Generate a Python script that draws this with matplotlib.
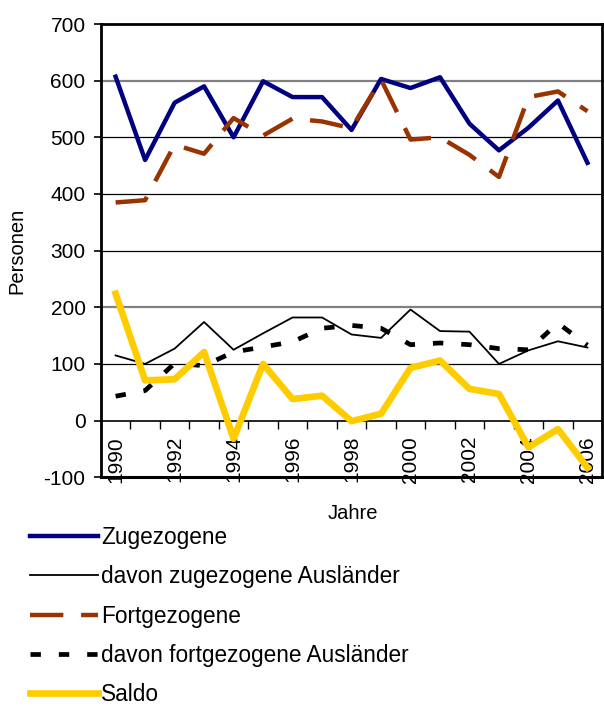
import matplotlib.pyplot as plt
import numpy as np

years = list(range(1990, 2007))
zugezogene = [607, 460, 561, 590, 500, 599, 571, 571, 513, 603, 587, 606, 524, 477, 517, 565, 455]
zu_auslaender = [115, 100, 127, 174, 125, 154, 182, 182, 152, 146, 196, 158, 157, 100, 124, 140, 129]
fortgezogene = [385, 389, 487, 471, 534, 503, 533, 528, 516, 602, 496, 500, 469, 430, 571, 581, 546]
fort_auslaender = [43, 53, 101, 97, 121, 130, 139, 163, 168, 163, 134, 137, 134, 127, 125, 172, 133]
saldo = [224, 71, 73, 121, -32, 100, 38, 44, -1, 12, 93, 106, 56, 47, -47, -15, -83]

plt.rcParams['font.family'] = ['Liberation Sans', 'DejaVu Sans']
plt.rcParams['axes.unicode_minus'] = False

fig = plt.figure(figsize=(6.04, 7.06), dpi=100)
ax = fig.add_axes([0.167, 0.324, 0.83, 0.642])

x = np.arange(len(years))

# grid lines
for v in [100, 300, 400, 500]:
    ax.axhline(v, color='black', lw=0.9, zorder=1)
for v in [200, 600]:
    ax.axhline(v, color='#808080', lw=1.6, zorder=1)
ax.axhline(-100, color='black', lw=2.2, zorder=5, clip_on=False)

ax.plot(x, zugezogene, color='#000080', lw=3.2, label='Zugezogene', zorder=3)
ax.plot(x, zu_auslaender, color='black', lw=1.3, label='davon zugezogene Ausländer', zorder=3)
ax.plot(x, fortgezogene, color='#993300', lw=3.2, dashes=(7.5, 4), label='Fortgezogene', zorder=3)
ax.plot(x, fort_auslaender, color='black', lw=3.4, dashes=(2.2, 3.8), label='davon fortgezogene Ausländer', zorder=3)
ax.plot(x, saldo, color='#FFCC00', lw=4.8, label='Saldo', zorder=4)

ax.set_xlim(-0.5, len(years) - 0.5)
ax.set_ylim(-100, 700)
ax.set_yticks(range(-100, 701, 100))
ax.tick_params(axis='y', labelsize=15, length=5, width=1.2, direction='out', pad=6)

# x axis sits at zero
ax.spines['bottom'].set_position(('data', 0))
ax.spines['bottom'].set_linewidth(1.2)
for s in ['left', 'top', 'right']:
    ax.spines[s].set_linewidth(2)
ax.set_xticks(x[::2])
ax.set_xticklabels([str(y) for y in years[::2]], rotation=90, fontsize=15, va='top')
ax.set_xticks(np.arange(-0.5, len(years), 1), minor=True)
ax.tick_params(axis='x', which='major', length=0, pad=11)
ax.tick_params(axis='x', which='minor', length=6, width=1.0, direction='out')

ax.set_ylabel('Personen', fontsize=14.5)
ax.yaxis.set_label_coords(-0.148, 0.5)
fig.text(0.585, 0.273, 'Jahre', fontsize=14.5, ha='center', va='center')

handles, labels = ax.get_legend_handles_labels()
fig.legend(handles, labels, loc='upper left', bbox_to_anchor=(0.05, 0.255),
           frameon=False, fontsize=16.3, handlelength=3.0, handletextpad=0.12,
           labelspacing=0.72, borderaxespad=0, borderpad=0)

fig.savefig('out.png', dpi=100)
